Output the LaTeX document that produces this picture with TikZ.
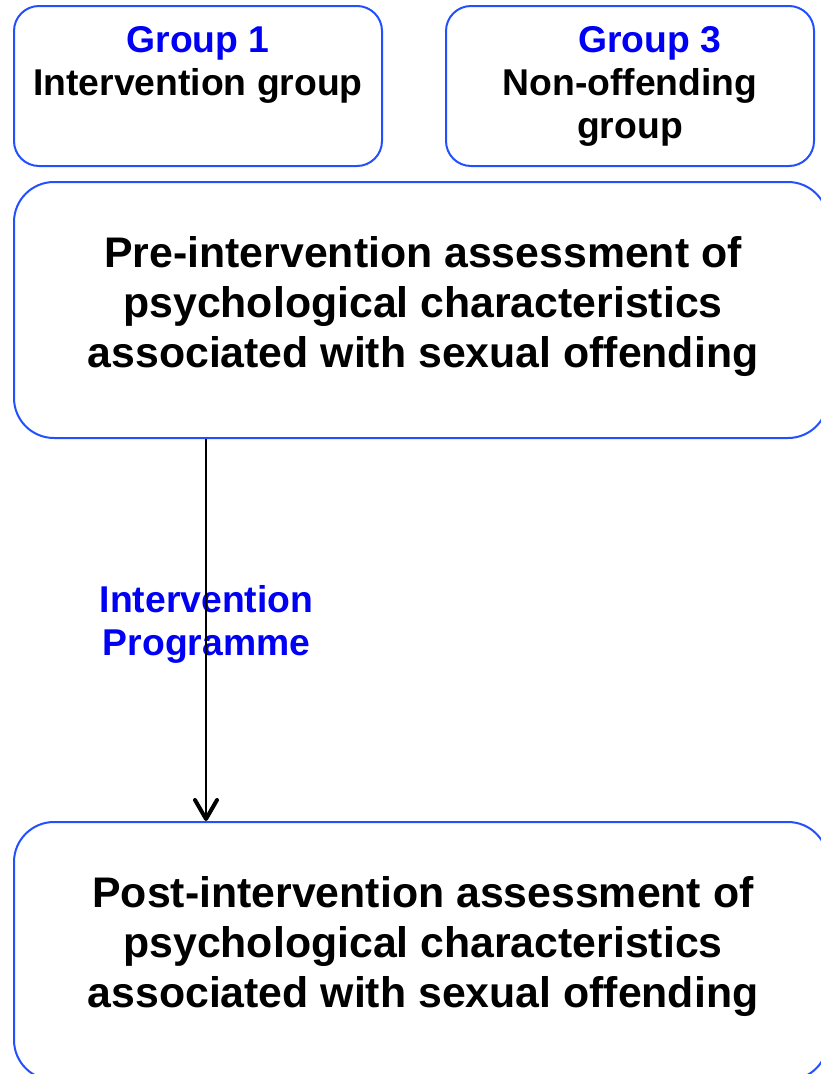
\documentclass[tikz,border=0pt]{standalone}
\usepackage{fontspec}
\setmainfont{Liberation Sans}
\usetikzlibrary{arrows.meta}
\definecolor{boxblue}{RGB}{35,80,255}
\definecolor{labelblue}{RGB}{0,0,245}
\tikzset{
  groupbox/.style={draw=boxblue, line width=2pt, rounded corners=25pt,
    minimum width=368pt, minimum height=160pt, inner sep=0pt},
  stagebox/.style={draw=boxblue, line width=2pt, rounded corners=40pt,
    minimum width=814pt, inner sep=0pt},
  smalltext/.style={align=center, anchor=base, inner sep=0pt,
    font=\fontsize{37.3pt}{43pt}\selectfont\bfseries},
  bigtext/.style={align=center, anchor=base, inner sep=0pt,
    font=\fontsize{42.8pt}{50pt}\selectfont\bfseries},
  flow/.style={line width=1.6pt, draw=black,
    -{Straight Barb[length=19pt, width=22pt, line width=4pt, line cap=round, line join=round]}}
}
\begin{document}
\begin{tikzpicture}[x=1pt, y=-1pt]
  \clip (0,0) rectangle (821,1074);

  % two participant groups (text nodes sit on their last baseline)
  \node[groupbox] (g1) at (198,86) {};
  \node[smalltext] (g1t) at (198,95)
    {\textcolor{labelblue}{Group 1}\\Intervention group};
  \node[groupbox] (g3) at (630,86) {};
  \node[smalltext] (g3t) at (630,138)
    {\hspace*{39pt}\textcolor{labelblue}{Group 3}\\Non-offending\\group};

  % assessment stages
  \node[stagebox, minimum height=256pt] (pre) at (421,310) {};
  \node[bigtext] (pret) at (423,367)
    {Pre-intervention assessment of\\psychological characteristics\\associated with sexual offending};
  \node[stagebox, minimum height=258pt] (post) at (421,951) {};
  \node[bigtext] (postt) at (423,1007)
    {Post-intervention assessment of\\psychological characteristics\\associated with sexual offending};

  % programme between the two assessments
  \node[smalltext, text=labelblue] (prog) at (206.5,655)
    {Intervention\\Programme};
  \coordinate (lane) at (206,0);
  \draw[flow] (pre.south -| lane) -- (post.north -| lane);
\end{tikzpicture}
\end{document}
